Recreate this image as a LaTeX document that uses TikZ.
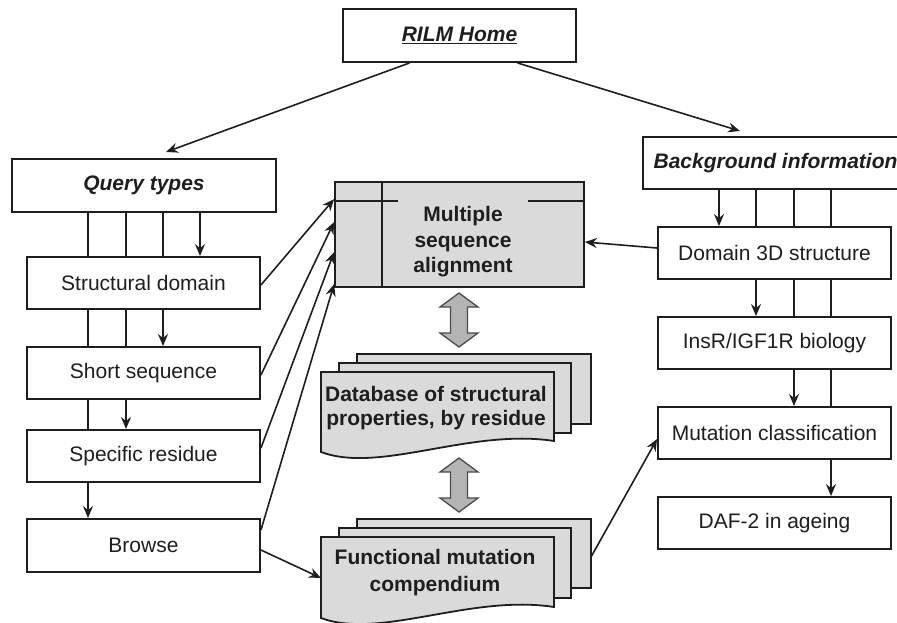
\documentclass[tikz,border=0pt]{standalone}
\usepackage{fontspec}
\setmainfont{Liberation Sans}
\usetikzlibrary{arrows.meta,backgrounds,calc}
\definecolor{ink}{HTML}{1E1E1E}
\definecolor{boxgray}{HTML}{DADADA}
\definecolor{arrgray}{HTML}{B4B4B4}
\begin{document}
\begin{tikzpicture}[x=1pt,y=-1pt,
  box/.style={draw=ink, line width=1.9pt, fill=white, minimum height=52pt, inner sep=0pt,
    font=\fontsize{21}{25}\selectfont, text=ink},
  hbox/.style={box, font=\fontsize{21}{25}\selectfont\bfseries\itshape},
  conn/.style={line width=1.6pt, draw=ink, -{Stealth[length=12pt,width=10pt,inset=4pt]}},
  plain/.style={line width=1.6pt, draw=ink},
  doc/.style={draw=ink, line width=1.8pt, fill=boxgray},
  dtext/.style={font=\fontsize{21}{24}\selectfont\bfseries, text=ink, align=center, inner sep=0pt},
  block/.style={draw=ink!80, line width=1.3pt, fill=arrgray}
]
\useasboundingbox (0,0) rectangle (897,623);
\clip (0,0) rectangle (897,623);

% top
\node[hbox, minimum width=233pt, minimum height=53pt] (home) at (459.5,35.5) {\underline{RILM Home}};
\node[hbox, minimum width=264pt, minimum height=53pt] (qt) at (144,185.5) {Query types};
\node[hbox, minimum width=265pt] (bg) at (775.5,163) {Background information};

% left column
\node[box, minimum width=233pt] (sd) at (143.5,283) {Structural domain};
\node[box, minimum width=233pt] (ss) at (143.5,373) {Short sequence};
\node[box, minimum width=233pt] (sr) at (143.5,456) {Specific residue};
\node[box, minimum width=233pt, minimum height=53pt] (br) at (143.5,545.5) {Browse};

% right column
\node[box, minimum width=233pt] (d3) at (774.5,253) {Domain 3D structure};
\node[box, minimum width=233pt] (ins) at (774.5,343) {InsR/IGF1R biology};
\node[box, minimum width=233pt] (mc) at (774.5,433) {Mutation classification};
\node[box, minimum width=233pt] (daf) at (774.5,523) {DAF-2 in ageing};

% multiple sequence alignment (internal storage)
\node[draw=ink, line width=1.8pt, fill=boxgray, minimum width=249pt, minimum height=105pt, inner sep=0pt] (msa) at (459.5,234.5) {};
\draw[plain] ($(msa.north west)+(48,0)$) -- ($(msa.south west)+(48,0)$);
\draw[plain] ($(msa.north west)+(0,20)$) -- ($(msa.north west)+(64,20)$);
\draw[plain] ($(msa.north east)+(-57,20)$) -- ($(msa.north east)+(0,20)$);
\node[dtext, font=\fontsize{21}{25.5}\selectfont\bfseries] (msat) at (463,242) {Multiple\\sequence\\alignment};

% database document stack
\draw[doc] (357,354) rectangle (591,424);
\draw[doc] (339,363) rectangle (571,433);
\draw[doc] (321,372) -- (554,372) -- (554,441) .. controls (470,428) and (380,474) .. (321,452) -- cycle;
\node[dtext] (db) at (436,408.5) {Database of structural\\properties, by residue};

% functional mutation compendium stack
\draw[doc] (357,519) rectangle (591,588);
\draw[doc] (339,528) rectangle (571,598);
\draw[doc] (321,537) -- (554,537) -- (554,607) .. controls (470,594) and (380,640) .. (321,618) -- cycle;
\node[dtext, font=\fontsize{21}{27}\selectfont\bfseries] (fmc) at (435,573) {Functional mutation\\compendium};
\coordinate (fmcL) at (321,578);
\coordinate (fmcR) at (591,557);

% block double arrows
\draw[block] (459,293) -- (478,307) -- (467.5,307) -- (467.5,333) -- (478,333) -- (459,347)
  -- (440,333) -- (450.5,333) -- (450.5,307) -- (440,307) -- cycle;
\draw[block] (459,458) -- (478,472) -- (467.5,472) -- (467.5,498) -- (478,498) -- (459,512)
  -- (440,498) -- (450.5,498) -- (450.5,472) -- (440,472) -- cycle;

% vertical links (behind boxes)
\coordinate (xa) at (88,0);
\coordinate (xb) at (126,0);
\coordinate (xc) at (163,0);
\coordinate (xd) at (200,0);
\coordinate (xe) at (719,0);
\coordinate (xf) at (756,0);
\coordinate (xg) at (794,0);
\coordinate (xh) at (831,0);
\begin{pgfonlayer}{background}
\draw[conn] (xa |- qt.south) -- (xa |- br.north);
\draw[conn] (xb |- qt.south) -- (xb |- sr.north);
\draw[conn] (xc |- qt.south) -- (xc |- ss.north);
\draw[conn] (xd |- qt.south) -- (xd |- sd.north);
\draw[conn] (xe |- bg.south) -- (xe |- d3.north);
\draw[conn] (xf |- bg.south) -- (xf |- ins.north);
\draw[conn] (xg |- bg.south) -- (xg |- mc.north);
\draw[conn] (xh |- bg.south) -- (xh |- daf.north);
\end{pgfonlayer}

% connectors
\draw[conn] ([xshift=-50pt]home.south) -- (166,152);
\draw[conn] ([xshift=58pt]home.south) -- (740,131);
\draw[conn] ([yshift=-2pt]sd.east) -- ($(msa.north west)+(0,18)$);
\draw[conn] ([yshift=-2pt]ss.east) -- ($(msa.north west)+(0,41)$);
\draw[conn] ([yshift=8pt]sr.east) -- ($(msa.north west)+(0,71)$);
\draw[conn] ([yshift=15.5pt]br.east) -- ($(msa.north west)+(0,103)$);
\draw[conn] ([yshift=5pt]d3.west) -- ([yshift=-7.5pt]msa.east);
\draw[conn] ([yshift=-4.5pt]br.east) -- (fmcL);
\draw[conn] (fmcR) -- ([yshift=-6pt]mc.west);
\end{tikzpicture}
\end{document}
